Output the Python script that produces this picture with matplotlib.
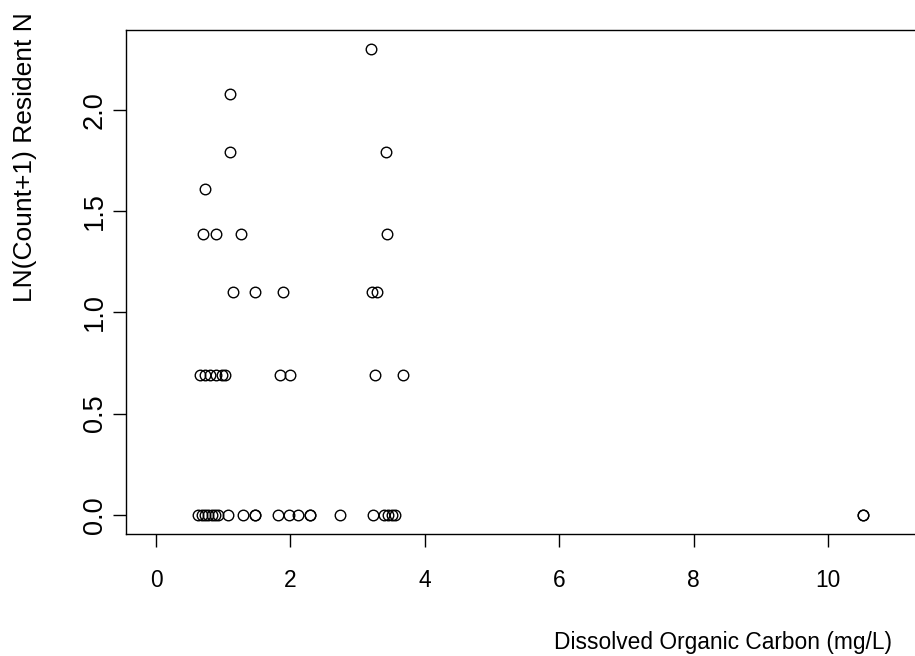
import matplotlib
matplotlib.use("Agg")
import matplotlib.pyplot as plt

plt.rcParams['font.family'] = ['Liberation Sans', 'DejaVu Sans']

# Dissolved organic carbon (mg/L), grouped by LN(count+1) level
doc_0 = [0.63, 0.68, 0.73, 0.78, 0.83, 0.88, 0.93, 1.07, 1.29, 1.47, 1.47,
         1.82, 1.98, 2.11, 2.29, 2.29, 2.74, 3.23, 3.39, 3.45, 3.51, 3.56,
         10.52, 10.52]
doc_069 = [0.65, 0.73, 0.80, 0.90, 0.98, 1.03, 1.85, 1.99, 3.26, 3.67]
doc_110 = [1.15, 1.47, 1.89, 3.21, 3.29]
doc_139 = [0.70, 0.89, 1.26, 3.44]
doc_161 = [0.73]
doc_179 = [1.10, 3.42]
doc_208 = [1.10]
doc_230 = [3.20]

ln_levels = [0.0, 0.693, 1.099, 1.386, 1.609, 1.792, 2.079, 2.303]
doc_groups = [doc_0, doc_069, doc_110, doc_139, doc_161, doc_179, doc_208, doc_230]

x_ticks = [0, 2, 4, 6, 8, 10]
y_ticks = [0.0, 0.5, 1.0, 1.5, 2.0]

W, H = 915, 656
fig = plt.figure(figsize=(W / 100, H / 100), dpi=100)
ax = fig.add_axes([126 / W, (H - 533.5) / H, (916 - 126) / W, (533.5 - 30) / H])

for lvl, grp in zip(ln_levels, doc_groups):
    ax.plot(grp, [lvl] * len(grp), linestyle='none', marker='o', markersize=7.6,
            markerfacecolor='none', markeredgecolor='black', markeredgewidth=1.0)

ax.set_xlim(-0.446, 11.31)
ax.set_ylim(-0.092, 2.395)
ax.set_xticks(x_ticks)
ax.set_xticklabels([str(t) for t in x_ticks])
ax.set_yticks(y_ticks)
ax.set_yticklabels(['%.1f' % t for t in y_ticks], rotation=90, va='center')
ax.spines['right'].set_visible(False)
for s in ['left', 'top', 'bottom']:
    ax.spines[s].set_linewidth(1.0)
ax.tick_params(direction='out', length=9.5, width=1.0)
ax.tick_params(axis='x', labelsize=16.4, pad=16)
ax.tick_params(axis='y', labelsize=19.5, pad=3.5)

fig.text(723 / W, 1 - 643 / H, 'Dissolved Organic Carbon (mg/L)',
         ha='center', va='center', fontsize=16.4)
# the reference crops this label at the top edge; kept just inside here
fig.text(25 / W, 1 - 302 / H, 'LN(Count+1) Resident N', rotation=90,
         ha='center', va='bottom', fontsize=19.0)

fig.savefig('out.png', dpi=100)
